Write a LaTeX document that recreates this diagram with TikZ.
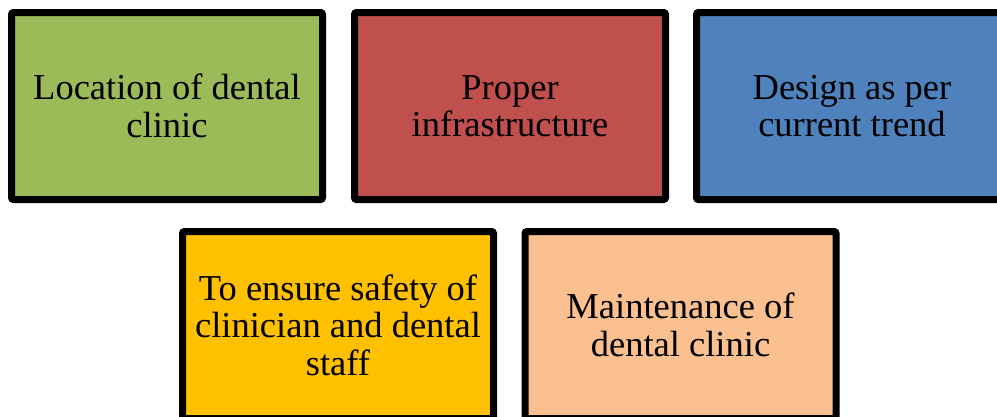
\documentclass[tikz,border=0pt]{standalone}
\usepackage{fontspec}
\setmainfont{Liberation Serif}
\definecolor{boxgreen}{HTML}{9BBB59}
\definecolor{boxred}{HTML}{C0504D}
\definecolor{boxblue}{HTML}{4F81BD}
\definecolor{boxyellow}{HTML}{FFC000}
\definecolor{boxpeach}{HTML}{FAC090}
\tikzset{
  card/.style={draw=black, line width=7pt, rounded corners=2pt,
    minimum width=311pt, minimum height=187pt, inner sep=0pt,
    align=center, font=\fontsize{36.5}{37.5}\selectfont}
}
\begin{document}
\begin{tikzpicture}[x=1pt, y=-1pt]
  \useasboundingbox (0,0) rectangle (997,416);
  \clip (0,0) rectangle (997,416);
  \fill[white] (0,0) rectangle (997,416);
  % top row
  \node[card, fill=boxgreen] (loc) at (167,106) {Location of dental\\clinic};
  \node[card, fill=boxred] (infra) at (510,106) {Proper\\infrastructure};
  \node[card, fill=boxblue] (design) at (852,106) {\raisebox{-3pt}{\parbox{300pt}{\centering Design as per\\current trend}}};
  % bottom row
  \node[card, fill=boxyellow] (safety) at (338,325) {To ensure safety of\\clinician and dental\\staff};
  \node[card, fill=boxpeach] (maint) at (680.5,325) {Maintenance of\\dental clinic};
\end{tikzpicture}
\end{document}
